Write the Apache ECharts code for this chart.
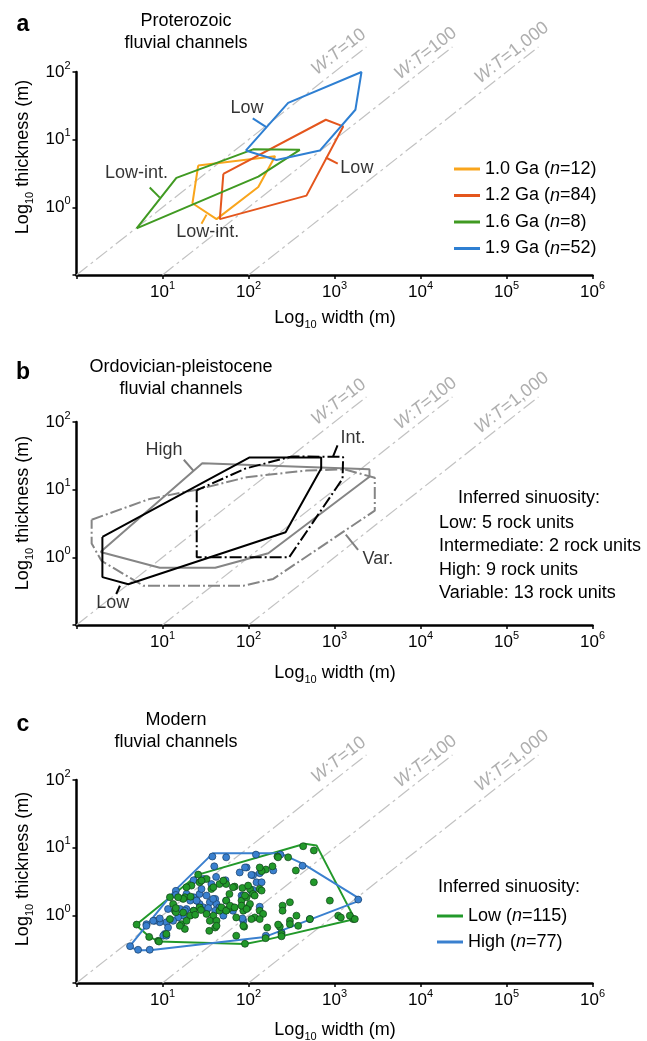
<!DOCTYPE html>
<html>
<head>
<meta charset="utf-8">
<script src="https://cdn.jsdelivr.net/npm/echarts@6/dist/echarts.min.js"></script>
<style>
html, body { margin: 0; padding: 0; background: #fff; }
#chart { width: 647px; height: 1041px; }
</style>
</head>
<body>
<div id="chart"></div>
<script>
var FONT = '"Liberation Sans", Arial, Helvetica, sans-serif';

// W:T reference lines (same in all three panels)
var wtRatios = [10, 100, 1000];
var wtNames = ['10', '100', '1,000'];
var wtTop = 235;                       // thickness where the guide lines stop
var wtLabelPos = [[1120, 198], [11500, 188], [115000, 192]];

// panel a : Proterozoic polygons [width m, thickness m]
var aNames = ['1.0 Ga (n=12)', '1.2 Ga (n=84)', '1.6 Ga (n=8)', '1.9 Ga (n=52)'];
var aColors = ['#f9a51c', '#e4561d', '#409a22', '#2e7fd2'];
var aGa10 = [[26, 4.15], [204, 5.7], [130, 2.0], [42.5, 0.67], [22.3, 1.15], [26, 4.15]];
var aGa12 = [[51, 3.12], [793, 19.7], [1262, 15.7], [472, 1.49], [46.4, 0.67], [51, 3.12]];
var aGa16 = [[5.0, 0.49], [14.5, 2.72], [113, 7.2], [395, 7.07], [130, 2.85], [5.0, 0.49]];
var aGa19 = [[93, 6.9], [289, 35], [2060, 100], [1750, 27.7], [675, 6.9], [212, 5.0], [93, 6.9]];
var aLabels = [['Low', 96, 29, 3], ['Low', 1820, 3.87, 1], ['Low-int.', 5.0, 3.16, 2], ['Low-int.', 33.6, 0.426, 0]];
var aPointers = [
  [[112, 20.6], [163, 15.2], 3],
  [[791, 5.45], [1091, 4.44], 1],
  [[7.1, 1.96], [9.3, 1.39], 2],
  [[28.4, 0.574], [32.5, 0.78], 0]
];

// panel b : Ordovician-pleistocene polygons
var bLow = [[2.0, 2.0], [2.0, 0.51], [4.0, 0.40], [270, 2.35], [700, 20.5], [700, 30], [103, 30], [2.0, 2.0]];
var bInt = [[25, 9.8], [25, 1.0], [297, 1.0], [1240, 14.5], [1260, 30.5], [320, 31], [92, 20.5], [25, 9.8]];
var bHigh = [[1.9, 1.2], [29, 24.5], [2550, 20], [2550, 15.5], [170, 1.15], [41, 0.70], [9.3, 0.70], [1.9, 1.2]];
var bVar = [[1.5, 3.6], [7.1, 7.3], [25, 10], [95, 15.3], [472, 19.2], [1300, 20], [2940, 15], [2940, 4.9],
            [194, 0.48], [87, 0.38], [6.0, 0.38], [1.95, 0.89], [1.5, 1.6], [1.5, 3.6]];
var bLabels = [['High', 10.4, 38], ['Int.', 1637, 57], ['Var.', 3190, 0.96], ['Low', 2.64, 0.213]];
var bPointers = [
  [[17.7, 27.7], [23.1, 18.8], '#808080'],
  [[1084, 45], [964, 31], '#000'],
  [[1353, 2.17], [1880, 1.29], '#808080'],
  [[3.2, 0.38], [2.9, 0.287], '#000']
];
var bTextLines = ['Low: 5 rock units', 'Intermediate: 2 rock units', 'High: 9 rock units', 'Variable: 13 rock units'];

// panel c : modern channels
var cNames = ['Low (n=115)', 'High (n=77)'];
var cColors = ['#22992a', '#3a80cf'];
var cLowHull = [[4.9, 0.72], [7.1, 0.48], [9.1, 0.41], [91, 0.376], [155, 0.43], [1723, 0.88], [618, 10.8],
                [452, 11.4], [26, 4.0], [4.9, 0.72]];
var cHighHull = [[4.1, 0.343], [5.2, 0.306], [7.1, 0.306], [155, 0.48], [2060, 1.69], [432, 5.76], [231, 8.3],
                 [38.8, 8.3], [13.9, 2.32], [4.1, 0.343]];
var cHighPts = [[38, 7.4], [55, 7.2], [122, 7.9], [235, 7.9], [40, 5.3], [79, 4.3], [95, 5.1], [113, 3.9], [135, 4.2],
  [194, 4.6], [425, 5.4], [42, 3.7], [37, 2.9], [54, 3.3], [30, 3.45], [23, 3.3], [14.3, 2.3], [14.3, 2.0], [19, 2.07],
  [23, 1.85], [27, 2.07], [32.5, 1.96], [41, 1.75], [35.5, 1.56], [42.5, 1.47], [25, 1.65], [21, 1.65], [27, 1.47],
  [30, 1.31], [32.5, 1.17], [23, 1.17], [19, 1.24], [16, 1.24], [14, 1.17], [11.6, 1.24], [17.4, 0.99], [15.2, 0.93],
  [13.3, 0.83], [11.1, 0.79], [9.3, 0.79], [8.1, 0.83], [11.6, 0.66], [10.6, 0.53], [10.2, 0.5], [6.5, 0.74],
  [5.2, 0.31], [4.2, 0.35], [7.1, 0.31], [66, 1.17], [83, 1.96], [108, 2.32], [124, 3.08], [142, 3.08], [87, 0.83],
  [135, 1.34], [517, 0.88], [1885, 1.71], [159, 0.5], [242, 0.56], [55, 1.65], [46, 1.31], [41, 1.17], [51, 0.99],
  [7.8, 0.83], [9.3, 0.9], [6.5, 0.70], [11.1, 0.5], [91, 5.1], [87, 1.96], [28.4, 2.45], [24.9, 1.65], [18.2, 1.17],
  [38.8, 1.75], [34, 1.28], [85, 0.9], [108, 3.96], [113, 2.37]];
var cLowPts = [[432, 10.5], [575, 9.1], [289, 7.2], [217, 7.4], [355, 4.6], [190, 5.3], [159, 4.75], [142, 4.5],
  [575, 3.08], [883, 1.65], [1104, 0.99], [1185, 0.93], [1649, 0.88], [303, 1.56], [249, 1.39], [249, 1.17],
  [361, 0.99], [303, 0.83], [231, 0.68], [221, 0.73], [165, 0.66], [118, 0.93], [135, 1.17], [108, 0.88], [89, 0.68],
  [72, 0.5], [242, 0.53], [242, 0.49], [158, 0.46], [55, 2.9], [69, 2.66], [85, 2.54], [104, 2.45], [113, 2.07],
  [135, 2.45], [83, 1.65], [95, 1.85], [55, 1.65], [66, 1.31], [58, 1.24], [46, 1.17], [39, 0.99], [35.5, 0.83],
  [42.5, 0.83], [32.5, 1.05], [27, 1.31], [23, 1.17], [21, 0.99], [17.4, 1.1], [14, 1.17], [16.6, 0.74], [18.2, 0.63],
  [35, 0.59], [41, 0.66], [46, 2.9], [37, 2.45], [27, 3.08], [21.7, 2.75], [18.2, 1.85], [17.4, 1.75], [15.2, 1.85],
  [12.2, 1.85], [13.3, 1.47], [11.1, 0.53], [8.9, 0.42], [7, 0.48], [5, 0.73], [91, 0.38], [19, 0.83], [14.3, 1.11],
  [12.2, 0.88], [15.9, 0.70], [24, 1.02], [28, 1.2], [42.5, 0.70], [48.5, 1.31], [55, 1.17], [61, 1.39], [69, 1.31],
  [72, 0.93], [87, 0.70], [87, 1.17], [99, 1.31], [51, 3.26], [39, 2.6], [66, 2.6], [60, 2.07], [32.5, 3.45],
  [28.4, 3.26], [26, 4.0], [19, 2.6], [21.2, 1.89], [14.3, 1.28], [9.1, 0.41], [221, 7.2], [135, 5.1], [148, 1.05],
  [135, 0.88], [517, 0.88], [303, 0.74], [378, 0.70], [104, 1.47], [118, 1.96], [142, 2.32], [99, 2.75], [83, 1.39],
  [95, 1.24], [91, 1.96], [1507, 0.99], [1723, 0.88]];

var chart = echarts.init(document.getElementById('chart'), null, {renderer: 'canvas'});

var tickRich = {
  b: {fontSize: 17, lineHeight: 24, color: '#000', fontFamily: FONT},
  p: {fontSize: 11, lineHeight: 11, verticalAlign: 'top', color: '#000', fontFamily: FONT}
};
var nameRich = {
  n: {fontSize: 18, lineHeight: 24, color: '#000', fontFamily: FONT},
  s: {fontSize: 11, lineHeight: 11, verticalAlign: 'bottom', color: '#000', fontFamily: FONT}
};

function powLabel(minExp) {
  return function (v) {
    var e = Math.round(Math.log(v) / Math.LN10);
    if (e < minExp) return '';
    return '{b|10}{p|' + e + '}';
  };
}

var gridTops = [72, 422, 780];
var grids = [], xAxes = [], yAxes = [];
gridTops.forEach(function (t, i) {
  grids.push({left: 76.5, top: t, width: 516, height: 203});
  xAxes.push({
    type: 'log', logBase: 10, gridIndex: i, min: 1, max: 1e6, splitNumber: 6,
    axisLine: {show: true, onZero: false, lineStyle: {color: '#000', width: 2.5}},
    axisTick: {show: true, length: 4, lineStyle: {color: '#000', width: 1.5}},
    splitLine: {show: false},
    axisLabel: {margin: 5, formatter: powLabel(1), rich: tickRich}
  });
  yAxes.push({
    type: 'log', logBase: 10, gridIndex: i, min: 0.1, max: 100, splitNumber: 3,
    axisLine: {show: true, onZero: false, lineStyle: {color: '#000', width: 2.5}},
    axisTick: {show: true, length: 4, lineStyle: {color: '#000', width: 1.5}},
    splitLine: {show: false},
    axisLabel: {margin: 6, formatter: powLabel(0), rich: tickRich}
  });
});

var series = [];

function addWT(gi) {
  wtRatios.forEach(function (r) {
    series.push({
      type: 'line', xAxisIndex: gi, yAxisIndex: gi, clip: false, silent: true, symbol: 'none', z: 1,
      data: [[r * 0.1, 0.1], [r * wtTop, wtTop]],
      lineStyle: {color: '#c2c2c2', width: 1.2, type: [14, 4, 3, 4]}
    });
  });
  series.push({
    type: 'scatter', xAxisIndex: gi, yAxisIndex: gi, clip: false, silent: true, symbolSize: 0, z: 2,
    data: wtLabelPos.map(function (p, k) { return {value: p, name: wtNames[k]}; }),
    label: {
      show: true, position: 'inside', rotate: 38,
      formatter: function (p) { return '{i|W}{t|:}{i|T}{t|=' + p.name + '}'; },
      rich: {
        i: {fontStyle: 'italic', fontSize: 18, color: '#9a9a9a', fontFamily: FONT},
        t: {fontSize: 18, color: '#9a9a9a', fontFamily: FONT}
      }
    }
  });
}

function addPoly(gi, name, data, color, dash) {
  series.push({
    type: 'line', name: name, xAxisIndex: gi, yAxisIndex: gi, data: data, symbol: 'none', silent: true,
    z: 3, color: color, clip: false,
    lineStyle: {color: color, width: 2, type: dash || 'solid'}
  });
}

function addPointer(gi, seg, color) {
  series.push({
    type: 'line', xAxisIndex: gi, yAxisIndex: gi, data: [seg[0], seg[1]], symbol: 'none', silent: true,
    z: 3, clip: false, lineStyle: {color: color, width: 2}
  });
}

function addLabels(gi, items) {
  series.push({
    type: 'scatter', xAxisIndex: gi, yAxisIndex: gi, clip: false, silent: true, symbolSize: 0, z: 5,
    data: items.map(function (it) { return {value: [it[1], it[2]], name: it[0]}; }),
    label: {show: true, position: 'inside', formatter: '{b}', color: '#000', fontSize: 18, fontFamily: FONT}
  });
}

// panel a
addWT(0);
[aGa10, aGa12, aGa16, aGa19].forEach(function (d, k) { addPoly(0, aNames[k], d, aColors[k]); });
aPointers.forEach(function (p) { addPointer(0, p, aColors[p[2]]); });
addLabels(0, aLabels);

// panel b
addWT(1);
addPoly(1, 'b High', bHigh, '#858585');
addPoly(1, 'b Var', bVar, '#858585', [12, 3, 2, 3]);
addPoly(1, 'b Low', bLow, '#000');
addPoly(1, 'b Int', bInt, '#000', [12, 3, 2, 3]);
bPointers.forEach(function (p) { addPointer(1, p, p[2]); });
addLabels(1, bLabels);

// panel c
addWT(2);
series.push({
  type: 'scatter', xAxisIndex: 2, yAxisIndex: 2, data: cHighPts, symbolSize: 7, silent: true, z: 4,
  itemStyle: {color: cColors[1], borderColor: '#173d66', borderWidth: 0.7, opacity: 1}
});
series.push({
  type: 'scatter', xAxisIndex: 2, yAxisIndex: 2, data: cLowPts, symbolSize: 7, silent: true, z: 4,
  itemStyle: {color: cColors[0], borderColor: '#10401a', borderWidth: 0.7, opacity: 1}
});
addPoly(2, cNames[0], cLowHull, cColors[0]);
addPoly(2, cNames[1], cHighHull, cColors[1]);

function legendFmt(name) { return name.replace('n=', '{i|n}='); }
var legendText = {
  fontSize: 18, lineHeight: 18, color: '#000', fontFamily: FONT,
  rich: {i: {fontStyle: 'italic', fontSize: 18, lineHeight: 18, color: '#000', fontFamily: FONT}}
};

function txt(x, y, s, opts) {
  opts = opts || {};
  return {
    type: 'text', x: x, y: y, rotation: opts.rot || 0, silent: true,
    style: {
      text: s, fill: opts.color || '#000', fontSize: opts.size || 18, fontFamily: FONT,
      fontWeight: opts.weight || 'normal', lineHeight: opts.lh || 22,
      align: opts.align || 'center', verticalAlign: 'middle',
      textAlign: opts.align || 'center', textVerticalAlign: 'middle',
      rich: opts.rich
    }
  };
}

var graphics = [
  txt(23, 25, 'a', {size: 23, weight: 'bold'}),
  txt(23, 373, 'b', {size: 23, weight: 'bold'}),
  txt(23, 725, 'c', {size: 23, weight: 'bold'}),
  txt(186, 32, 'Proterozoic\nfluvial channels'),
  txt(181, 378, 'Ordovician-pleistocene\nfluvial channels'),
  txt(176, 731, 'Modern\nfluvial channels'),
  txt(529, 498, 'Inferred sinuosity:'),
  txt(509, 887, 'Inferred sinuosity:')
];
bTextLines.forEach(function (s, k) {
  graphics.push(txt(439, 523 + k * 23.4, s, {align: 'left'}));
});
var xNameY = [318, 673, 1030];
var yNameY = [157, 513, 869];
for (var g = 0; g < 3; g++) {
  graphics.push(txt(335, xNameY[g], '{n|Log}{s|10}{n| width (m)}', {rich: nameRich}));
  graphics.push(txt(23, yNameY[g], '{n|Log}{s|10}{n| thickness (m)}', {rich: nameRich, rot: Math.PI / 2}));
}

chart.setOption({
  animation: false,
  backgroundColor: '#fff',
  textStyle: {fontFamily: FONT},
  grid: grids,
  xAxis: xAxes,
  yAxis: yAxes,
  legend: [
    {data: aNames, left: 449, top: 155, orient: 'vertical', icon: 'rect', itemWidth: 26, itemHeight: 3,
     itemGap: 8.5, selectedMode: false, formatter: legendFmt, textStyle: legendText},
    {data: cNames, left: 432, top: 902, orient: 'vertical', icon: 'rect', itemWidth: 26, itemHeight: 3,
     itemGap: 8, selectedMode: false, formatter: legendFmt, textStyle: legendText}
  ],
  graphic: graphics,
  series: series
});
</script>
</body>
</html>
